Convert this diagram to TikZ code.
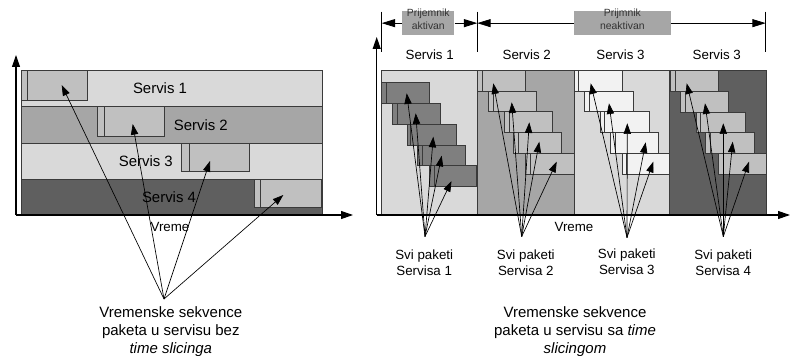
\documentclass[tikz,border=0pt]{standalone}
\usepackage{fontspec}
\setmainfont{Liberation Sans}
\usetikzlibrary{arrows.meta,fit}

\definecolor{bglight}{HTML}{D9D9D9}
\definecolor{bgmid}{HTML}{A6A6A6}
\definecolor{bgdark}{HTML}{5F5F5F}
\definecolor{pktgray}{HTML}{C0C0C0}
\definecolor{pktdark}{HTML}{7F7F7F}
\definecolor{pktpale}{HTML}{F2F2F2}
\definecolor{edge}{HTML}{3A3A3A}
\definecolor{tagtext}{HTML}{333333}

% packet: name, x1, y1, x2, y2, divider x, fill colour
\newcommand\pkbox[7]{%
  \node[pkt, fill=#7, fit={(#2,#3)(#4,#5)}] (#1) {};
  \draw[edge, line width=0.6pt] (#6,#3) -- (#6,#5);
}

\tikzset{
  band/.style={draw=edge, line width=0.6pt, inner sep=0pt},
  pkt/.style={draw=edge, line width=0.6pt, inner sep=0pt},
  axis/.style={line width=0.8pt, -{Triangle[length=9pt,width=6pt]}},
  ptr/.style={line width=0.5pt, -{Triangle[length=8pt,width=5.5pt]}},
  brk/.style={line width=0.6pt, -{Triangle[length=10pt,width=6pt]}},
  tick/.style={line width=0.6pt},
  rowlbl/.style={font=\fontsize{11.2}{13}\selectfont, inner sep=0pt},
  collbl/.style={font=\fontsize{10}{12}\selectfont, inner sep=0pt},
  grouplbl/.style={font=\fontsize{10}{12.5}\selectfont, inner sep=0pt, align=center},
  caption/.style={font=\fontsize{11.25}{13.6}\selectfont, inner sep=0pt, align=center},
  tag/.style={fill=bgmid, inner sep=0pt, align=center, text=tagtext,
              font=\fontsize{7.8}{9.5}\selectfont},
}

\begin{document}
\begin{tikzpicture}[x=0.75pt,y=-0.75pt]
\useasboundingbox (0,0) rectangle (791,356);

%% ---------------- without time slicing ----------------
\node[band, fill=bglight, fit={(21,70.7)(322,106.7)}] (row1) {};
\node[band, fill=bgmid,   fit={(21,106.7)(322,143.3)}] (row2) {};
\node[band, fill=bglight, fit={(21,143.3)(322,179)}] (row3) {};
\node[band, fill=bgdark,  fit={(21,179)(322,215)}] (row4) {};

\pkbox{lp1}{21}{70.7}{87.7}{100}{27.3}{pktgray}
\pkbox{lp2}{97.3}{106.7}{164.3}{136}{104.3}{pktgray}
\pkbox{lp3}{181.7}{143.3}{249}{171.7}{189}{pktgray}
\pkbox{lp4}{254}{179}{321.7}{207.3}{260.7}{pktgray}

\node[rowlbl] (ls1) at (160,88) {Servis 1};
\node[rowlbl] (ls2) at (200.8,125) {Servis 2};
\node[rowlbl] (ls3) at (145.8,161) {Servis 3};
\node[rowlbl] (ls4) at (169,196.7) {Servis 4};

\coordinate (lo) at (16,215);
\coordinate (ly) at (16,55);
\coordinate (lx) at (353,215);
\draw[axis] (lo) -- (ly);
\draw[axis] (lo) -- (lx);
\node[collbl] (lvreme) at (170,227) {Vreme};

\coordinate (lapex) at (164,299);
\coordinate (lt1) at (61.7,85);
\coordinate (lt2) at (132.7,124);
\coordinate (lt3) at (210,161);
\coordinate (lt4) at (283.3,195);
\foreach \t in {lt1,lt2,lt3,lt4} \draw[ptr] (lapex) -- (\t);

\node[caption] (lcap) at (170.8,331.5)
  {Vremenske sekvence\\paketa u servisu bez\\\textit{time slicinga}};

%% ---------------- with time slicing ----------------
\node[band, fill=bglight, fit={(381.7,70.7)(477.3,215)}] (c1) {};
\node[band, fill=bgmid,   fit={(477.3,70.7)(574,215)}] (c2) {};
\node[band, fill=bglight, fit={(574,70.7)(669.5,215)}] (c3) {};
\node[band, fill=bgdark,  fit={(669.5,70.7)(766.7,215)}] (c4) {};

% service 1 burst
\pkbox{a1}{381.7}{82.3}{429.3}{103.3}{386.7}{pktdark}
\pkbox{a2}{392.3}{103.3}{440.3}{124.3}{397.3}{pktdark}
\pkbox{a3}{407.3}{124.3}{456}{145}{410}{pktdark}
\pkbox{a4}{417.7}{145}{465.7}{165}{422.7}{pktdark}
\pkbox{a5}{429.3}{165}{476.7}{186}{434}{pktdark}
% service 2 burst
\pkbox{b1}{477.7}{70.7}{525.7}{91}{482.3}{pktgray}
\pkbox{b2}{488.3}{91}{536.7}{111.7}{493.3}{pktgray}
\pkbox{b3}{504.3}{111.7}{552.3}{132.7}{509}{pktgray}
\pkbox{b4}{513.3}{132.7}{561.7}{153.3}{518.3}{pktgray}
\pkbox{b5}{525.7}{153.3}{574}{174}{530.7}{pktgray}
% service 3 burst
\pkbox{d1}{574}{70.7}{622.3}{91}{578.3}{pktpale}
\pkbox{d2}{584}{91}{633.3}{111.7}{589.3}{pktpale}
\pkbox{d3}{600.7}{111.7}{649}{132.7}{604.3}{pktpale}
\pkbox{d4}{610}{132.7}{658.3}{153.3}{615}{pktpale}
\pkbox{d5}{622.3}{153.3}{669.3}{174}{626.7}{pktpale}
% service 4 burst
\pkbox{e1}{670}{70.7}{718.3}{91}{675}{pktgray}
\pkbox{e2}{680}{91}{728.3}{112}{685}{pktgray}
\pkbox{e3}{696.7}{112}{745}{132.7}{700}{pktgray}
\pkbox{e4}{705}{132.7}{754.3}{153.3}{710}{pktgray}
\pkbox{e5}{718.3}{153.3}{766.7}{174}{723.3}{pktgray}

\coordinate (ro) at (376.7,215);
\coordinate (ry) at (376.7,37);
\coordinate (rx) at (790,215);
\draw[axis] (ro) -- (ry);
\draw[axis] (ro) -- (rx);
\node[collbl] (rvreme) at (574,227) {Vreme};

% arrows from each group label to its packets
\coordinate (ap1) at (425,236.5);
\coordinate (ap2) at (521.7,236.5);
\coordinate (ap3) at (627,237.5);
\coordinate (ap4) at (723.3,236.5);

\coordinate (ta1) at (406.7,93.3);  \coordinate (ta2) at (415.7,113.3);
\coordinate (ta3) at (433.3,136.7); \coordinate (ta4) at (441.7,155.7);
\coordinate (ta5) at (451.5,181);
\coordinate (tb1) at (493.3,83.3);  \coordinate (tb2) at (511.7,102.3);
\coordinate (tb3) at (529.3,122.3); \coordinate (tb4) at (539.3,141.7);
\coordinate (tb5) at (556.7,161.7);
\coordinate (td1) at (590.7,83.3);  \coordinate (td2) at (609,103.3);
\coordinate (td3) at (627.3,123.3); \coordinate (td4) at (645.7,142.3);
\coordinate (td5) at (653.3,161.7);
\coordinate (te1) at (686.7,83.3);  \coordinate (te2) at (705,103.3);
\coordinate (te3) at (723.3,123.3); \coordinate (te4) at (732.7,141.7);
\coordinate (te5) at (749,161.7);

\foreach \i in {1,...,5} {
  \draw[ptr] (ap1) -- (ta\i);
  \draw[ptr] (ap2) -- (tb\i);
  \draw[ptr] (ap3) -- (td\i);
  \draw[ptr] (ap4) -- (te\i);
}

\node[collbl] (h1) at (429.7,55) {Servis 1};
\node[collbl] (h2) at (526.7,55) {Servis 2};
\node[collbl] (h3) at (620.5,55) {Servis 3};
\node[collbl] (h4) at (716.8,55) {Servis 3};

\node[grouplbl] (g1) at (424.2,262.7) {Svi paketi\\Servisa 1};
\node[grouplbl] (g2) at (525.8,262.7) {Svi paketi\\Servisa 2};
\node[grouplbl] (g3) at (626.8,261.7) {Svi paketi\\Servisa 3};
\node[grouplbl] (g4) at (723.2,262.7) {Svi paketi\\Servisa 4};

\node[caption] (rcap) at (575,331.5)
  {Vremenske sekvence\\paketa u servisu sa \textit{time}\\\textit{slicingom}};

% receiver on/off intervals
\coordinate (k1t) at (381.7,11.7); \coordinate (k1b) at (381.7,51.7);
\coordinate (k2t) at (477.3,11.7); \coordinate (k2b) at (477.3,51.7);
\coordinate (k3t) at (765.7,11.7); \coordinate (k3b) at (765.7,51.7);
\draw[tick] (k1t) -- (k1b);
\draw[tick] (k2t) -- (k2b);
\draw[tick] (k3t) -- (k3b);

\node[tag, fit={(402.3,11)(454.3,35.3)}] (on) {Prijemnik\\aktivan};
\node[tag, fit={(574,11)(670.7,35.3)}] (off) {Prijmnik\\neaktivan};

\draw[brk] (on.west) -- (on.west -| k1t);
\draw[brk] (on.east) -- (on.east -| k2t);
\draw[brk] (off.west) -- (off.west -| k2t);
\draw[brk] (off.east) -- (off.east -| k3t);
\end{tikzpicture}
\end{document}
